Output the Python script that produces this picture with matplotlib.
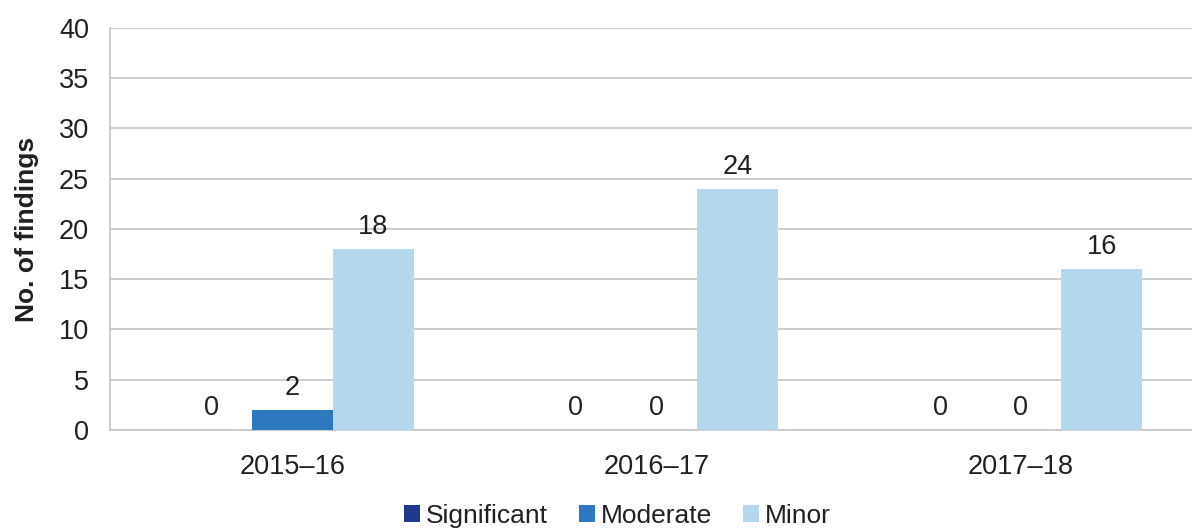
import matplotlib
matplotlib.use("Agg")
import matplotlib.pyplot as plt
import numpy as np

plt.rcParams['font.family'] = ['Liberation Sans', 'DejaVu Sans']

years = ["2015–16", "2016–17", "2017–18"]
series_names = ["Significant", "Moderate", "Minor"]
significant = [0, 0, 0]
moderate = [2, 0, 0]
minor = [18, 24, 16]
colors = ["#1f3a8c", "#2e78c0", "#b3d8ee"]

fig = plt.figure(figsize=(11.92, 5.28), dpi=100)
ax = fig.add_axes([0.0923, 0.1856, 0.917, 0.7614])

x = np.arange(len(years))
width = 0.222
offsets = [-width, 0, width]
for vals, name, col, off in zip([significant, moderate, minor], series_names, colors, offsets):
    bars = ax.bar(x + off, vals, width, color=col, label=name, zorder=3)
    for b, v in zip(bars, vals):
        ax.text(b.get_x() + b.get_width() / 2, v + 0.9, f"{v}",
                ha="center", va="bottom", fontsize=19.5, color="#231f20")

ax.set_xlim(-0.5, 2.5)
ax.set_ylim(0, 40)
ax.set_yticks(range(0, 41, 5))
ax.set_xticks(x)
ax.set_xticklabels(years)
ax.tick_params(axis="both", labelsize=19.5, colors="#231f20", length=0)
ax.tick_params(axis="y", pad=15)
ax.tick_params(axis="x", pad=17)
ax.grid(axis="y", color="#c8c8c8", linewidth=1.3, zorder=0)
for s in ["top", "right"]:
    ax.spines[s].set_visible(False)
ax.spines["left"].set_color("#c8c8c8")
ax.spines["left"].set_linewidth(1.3)
ax.spines["bottom"].set_color("#c8c8c8")
ax.spines["bottom"].set_linewidth(1.3)

ax.set_ylabel("No. of findings", fontsize=19, fontweight="bold", color="#231f20", labelpad=14)

leg = fig.legend(loc="lower center", bbox_to_anchor=(0.518, -0.045), ncol=3, frameon=False,
                 fontsize=19, handlelength=0.6, handleheight=0.6, handletextpad=0.25,
                 columnspacing=1.15)
for t in leg.get_texts():
    t.set_color("#231f20")

fig.savefig("out.png", dpi=100)
